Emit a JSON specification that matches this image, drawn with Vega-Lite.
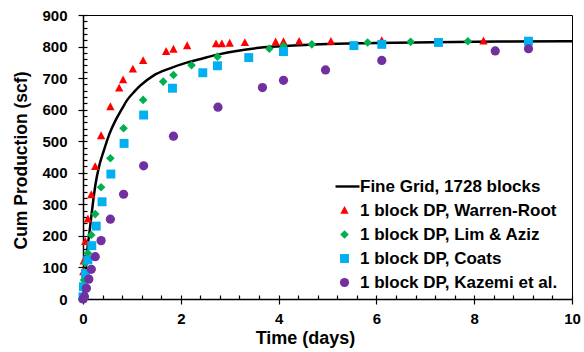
{
  "$schema": "https://vega.github.io/schema/vega-lite/v6.json",
  "width": 489,
  "height": 284,
  "autosize": {"type": "none"},
  "padding": {"left": 83, "top": 15, "right": 12, "bottom": 53},
  "background": "white",
  "config": {
    "view": {"stroke": "#000000", "strokeWidth": 1},
    "font": "Liberation Sans",
    "axis": {
      "grid": false,
      "domainColor": "#000000",
      "domainWidth": 1.5,
      "tickColor": "#000000",
      "tickWidth": 1.2,
      "labelFlush": false,
      "labelOverlap": false,
      "labelFont": "Liberation Sans",
      "labelFontWeight": "bold",
      "labelFontSize": 15,
      "labelColor": "#000000",
      "titleFont": "Liberation Sans",
      "titleFontWeight": "bold",
      "titleFontSize": 17.5,
      "titleColor": "#000000"
    }
  },
  "datasets": {
    "grid": [
      {"series": "Fine Grid, 1728 blocks", "t": 0, "v": 0},
      {"series": "Fine Grid, 1728 blocks", "t": 0.027, "v": 50},
      {"series": "Fine Grid, 1728 blocks", "t": 0.061, "v": 102},
      {"series": "Fine Grid, 1728 blocks", "t": 0.088, "v": 155},
      {"series": "Fine Grid, 1728 blocks", "t": 0.129, "v": 208},
      {"series": "Fine Grid, 1728 blocks", "t": 0.17, "v": 261},
      {"series": "Fine Grid, 1728 blocks", "t": 0.211, "v": 314},
      {"series": "Fine Grid, 1728 blocks", "t": 0.259, "v": 367},
      {"series": "Fine Grid, 1728 blocks", "t": 0.327, "v": 419},
      {"series": "Fine Grid, 1728 blocks", "t": 0.429, "v": 472},
      {"series": "Fine Grid, 1728 blocks", "t": 0.545, "v": 525},
      {"series": "Fine Grid, 1728 blocks", "t": 0.668, "v": 567},
      {"series": "Fine Grid, 1728 blocks", "t": 0.784, "v": 599},
      {"series": "Fine Grid, 1728 blocks", "t": 0.906, "v": 631},
      {"series": "Fine Grid, 1728 blocks", "t": 1.05, "v": 657},
      {"series": "Fine Grid, 1728 blocks", "t": 1.17, "v": 676},
      {"series": "Fine Grid, 1728 blocks", "t": 1.44, "v": 708},
      {"series": "Fine Grid, 1728 blocks", "t": 1.78, "v": 731},
      {"series": "Fine Grid, 1728 blocks", "t": 2.12, "v": 749},
      {"series": "Fine Grid, 1728 blocks", "t": 2.46, "v": 763},
      {"series": "Fine Grid, 1728 blocks", "t": 2.8, "v": 776},
      {"series": "Fine Grid, 1728 blocks", "t": 3.14, "v": 786},
      {"series": "Fine Grid, 1728 blocks", "t": 3.6, "v": 796},
      {"series": "Fine Grid, 1728 blocks", "t": 4.3, "v": 803},
      {"series": "Fine Grid, 1728 blocks", "t": 4.85, "v": 807},
      {"series": "Fine Grid, 1728 blocks", "t": 6, "v": 811},
      {"series": "Fine Grid, 1728 blocks", "t": 7.16, "v": 814},
      {"series": "Fine Grid, 1728 blocks", "t": 8.5, "v": 816},
      {"series": "Fine Grid, 1728 blocks", "t": 10, "v": 817}
    ],
    "dp": [
      {"series": "1 block DP, Warren-Root", "t": 0, "v": 0},
      {"series": "1 block DP, Warren-Root", "t": 0.006, "v": 86},
      {"series": "1 block DP, Warren-Root", "t": 0.015, "v": 120},
      {"series": "1 block DP, Warren-Root", "t": 0.047, "v": 182},
      {"series": "1 block DP, Warren-Root", "t": 0.1, "v": 253},
      {"series": "1 block DP, Warren-Root", "t": 0.17, "v": 330},
      {"series": "1 block DP, Warren-Root", "t": 0.25, "v": 419},
      {"series": "1 block DP, Warren-Root", "t": 0.37, "v": 517},
      {"series": "1 block DP, Warren-Root", "t": 0.56, "v": 609},
      {"series": "1 block DP, Warren-Root", "t": 0.74, "v": 668},
      {"series": "1 block DP, Warren-Root", "t": 0.82, "v": 694},
      {"series": "1 block DP, Warren-Root", "t": 1.02, "v": 728},
      {"series": "1 block DP, Warren-Root", "t": 1.23, "v": 755},
      {"series": "1 block DP, Warren-Root", "t": 1.7, "v": 784},
      {"series": "1 block DP, Warren-Root", "t": 1.85, "v": 791},
      {"series": "1 block DP, Warren-Root", "t": 2.13, "v": 802},
      {"series": "1 block DP, Warren-Root", "t": 2.72, "v": 808},
      {"series": "1 block DP, Warren-Root", "t": 2.84, "v": 808},
      {"series": "1 block DP, Warren-Root", "t": 3.0, "v": 810},
      {"series": "1 block DP, Warren-Root", "t": 3.31, "v": 812},
      {"series": "1 block DP, Warren-Root", "t": 3.94, "v": 814},
      {"series": "1 block DP, Warren-Root", "t": 4.1, "v": 815},
      {"series": "1 block DP, Warren-Root", "t": 4.42, "v": 816},
      {"series": "1 block DP, Warren-Root", "t": 5.07, "v": 816},
      {"series": "1 block DP, Warren-Root", "t": 6.11, "v": 818},
      {"series": "1 block DP, Warren-Root", "t": 8.19, "v": 817},
      {"series": "1 block DP, Lim & Aziz", "t": 0, "v": 0},
      {"series": "1 block DP, Lim & Aziz", "t": 0.02, "v": 60},
      {"series": "1 block DP, Lim & Aziz", "t": 0.05, "v": 114},
      {"series": "1 block DP, Lim & Aziz", "t": 0.1, "v": 145},
      {"series": "1 block DP, Lim & Aziz", "t": 0.17, "v": 203},
      {"series": "1 block DP, Lim & Aziz", "t": 0.25, "v": 269},
      {"series": "1 block DP, Lim & Aziz", "t": 0.37, "v": 354},
      {"series": "1 block DP, Lim & Aziz", "t": 0.56, "v": 446},
      {"series": "1 block DP, Lim & Aziz", "t": 0.83, "v": 541},
      {"series": "1 block DP, Lim & Aziz", "t": 1.23, "v": 631},
      {"series": "1 block DP, Lim & Aziz", "t": 1.64, "v": 689},
      {"series": "1 block DP, Lim & Aziz", "t": 1.85, "v": 710},
      {"series": "1 block DP, Lim & Aziz", "t": 2.22, "v": 741},
      {"series": "1 block DP, Lim & Aziz", "t": 2.75, "v": 768},
      {"series": "1 block DP, Lim & Aziz", "t": 3.81, "v": 793},
      {"series": "1 block DP, Lim & Aziz", "t": 4.1, "v": 802},
      {"series": "1 block DP, Lim & Aziz", "t": 4.68, "v": 807},
      {"series": "1 block DP, Lim & Aziz", "t": 5.82, "v": 813},
      {"series": "1 block DP, Lim & Aziz", "t": 6.7, "v": 815},
      {"series": "1 block DP, Lim & Aziz", "t": 7.87, "v": 817},
      {"series": "1 block DP, Coats", "t": 0, "v": 7},
      {"series": "1 block DP, Coats", "t": 0.01, "v": 39},
      {"series": "1 block DP, Coats", "t": 0.05, "v": 81},
      {"series": "1 block DP, Coats", "t": 0.1, "v": 124},
      {"series": "1 block DP, Coats", "t": 0.18, "v": 169},
      {"series": "1 block DP, Coats", "t": 0.27, "v": 231},
      {"series": "1 block DP, Coats", "t": 0.39, "v": 308},
      {"series": "1 block DP, Coats", "t": 0.57, "v": 396},
      {"series": "1 block DP, Coats", "t": 0.84, "v": 493},
      {"series": "1 block DP, Coats", "t": 1.24, "v": 583},
      {"series": "1 block DP, Coats", "t": 1.83, "v": 668},
      {"series": "1 block DP, Coats", "t": 2.45, "v": 717},
      {"series": "1 block DP, Coats", "t": 2.75, "v": 739},
      {"series": "1 block DP, Coats", "t": 3.39, "v": 765},
      {"series": "1 block DP, Coats", "t": 4.1, "v": 784},
      {"series": "1 block DP, Coats", "t": 5.54, "v": 803},
      {"series": "1 block DP, Coats", "t": 6.11, "v": 807},
      {"series": "1 block DP, Coats", "t": 7.27, "v": 813},
      {"series": "1 block DP, Coats", "t": 9.11, "v": 817},
      {"series": "1 block DP, Kazemi et al.", "t": 0, "v": 0},
      {"series": "1 block DP, Kazemi et al.", "t": 0.03, "v": 7},
      {"series": "1 block DP, Kazemi et al.", "t": 0.07, "v": 34},
      {"series": "1 block DP, Kazemi et al.", "t": 0.12, "v": 63},
      {"series": "1 block DP, Kazemi et al.", "t": 0.17, "v": 94},
      {"series": "1 block DP, Kazemi et al.", "t": 0.25, "v": 134},
      {"series": "1 block DP, Kazemi et al.", "t": 0.37, "v": 185},
      {"series": "1 block DP, Kazemi et al.", "t": 0.56, "v": 253},
      {"series": "1 block DP, Kazemi et al.", "t": 0.83, "v": 332},
      {"series": "1 block DP, Kazemi et al.", "t": 1.24, "v": 422},
      {"series": "1 block DP, Kazemi et al.", "t": 1.85, "v": 516},
      {"series": "1 block DP, Kazemi et al.", "t": 2.76, "v": 608},
      {"series": "1 block DP, Kazemi et al.", "t": 3.67, "v": 670},
      {"series": "1 block DP, Kazemi et al.", "t": 4.1, "v": 693},
      {"series": "1 block DP, Kazemi et al.", "t": 4.96, "v": 726},
      {"series": "1 block DP, Kazemi et al.", "t": 6.11, "v": 756},
      {"series": "1 block DP, Kazemi et al.", "t": 8.43, "v": 786},
      {"series": "1 block DP, Kazemi et al.", "t": 9.11, "v": 793}
    ]
  },
  "layer": [
    {
      "data": {"name": "grid"},
      "mark": {"type": "line", "color": "#000000", "strokeWidth": 2.5, "interpolate": "monotone"},
      "encoding": {
        "x": {
          "field": "t", "type": "quantitative",
          "scale": {"domain": [0, 10], "nice": false},
          "axis": {"orient": "bottom", "values": [0, 2, 4, 6, 8, 10], "tickSize": 5, "labelPadding": 7, "title": "Time (days)", "titleFontSize": 18, "titlePadding": 3, "titleX": 222, "titleAlign": "center", "format": "d"}
        },
        "y": {
          "field": "v", "type": "quantitative",
          "scale": {"domain": [0, 900], "nice": false},
          "axis": {"orient": "left", "values": [0, 100, 200, 300, 400, 500, 600, 700, 800, 900], "tickSize": 5, "labelPadding": 11, "title": "Cum Production (scf)", "titlePadding": 11, "titleY": 145, "titleAlign": "center", "format": "d"}
        }
      }
    },
    {
      "data": {"name": "dp"},
      "mark": {"type": "point", "filled": true, "opacity": 1, "strokeWidth": 0},
      "encoding": {
        "x": {
          "field": "t", "type": "quantitative",
          "scale": {"domain": [0, 10], "nice": false},
          "axis": {"orient": "bottom", "values": [0, 0.4, 0.8, 1.2, 1.6, 2, 2.4, 2.8, 3.2, 3.6, 4, 4.4, 4.8, 5.2, 5.6, 6, 6.4, 6.8, 7.2, 7.6, 8, 8.4, 8.8, 9.2, 9.6, 10], "tickSize": -4, "labels": false, "domain": false, "title": null}
        },
        "y": {
          "field": "v", "type": "quantitative",
          "scale": {"domain": [0, 900], "nice": false},
          "axis": {"orient": "left", "values": [0, 20, 40, 60, 80, 100, 120, 140, 160, 180, 200, 220, 240, 260, 280, 300, 320, 340, 360, 380, 400, 420, 440, 460, 480, 500, 520, 540, 560, 580, 600, 620, 640, 660, 680, 700, 720, 740, 760, 780, 800, 820, 840, 860, 880, 900], "tickSize": -4, "labels": false, "domain": false, "title": null}
        },
        "color": {
          "field": "series", "type": "nominal",
          "scale": {
            "domain": ["Fine Grid, 1728 blocks", "1 block DP, Warren-Root", "1 block DP, Lim & Aziz", "1 block DP, Coats", "1 block DP, Kazemi et al."],
            "range": ["#000000", "#FF0000", "#00B050", "#00B0F0", "#7030A0"]
          },
          "legend": {
            "title": null, "orient": "none", "legendX": 253, "legendY": 163,
            "labelFont": "Liberation Sans", "labelFontSize": 17, "labelFontWeight": "bold", "labelColor": "#000000",
            "labelLimit": 300, "labelOffset": 7, "rowPadding": 6,
            "encode": {"symbols": {"update": {
              "fill": {"signal": "scale('color', datum.value)"},
              "stroke": {"value": "transparent"},
              "strokeWidth": {"value": 0},
              "opacity": {"value": 1}
            }}}
          }
        },
        "shape": {
          "field": "series", "type": "nominal",
          "scale": {
            "domain": ["Fine Grid, 1728 blocks", "1 block DP, Warren-Root", "1 block DP, Lim & Aziz", "1 block DP, Coats", "1 block DP, Kazemi et al."],
            "range": ["M-2.25,-0.3H3.75V0.3H-2.25Z", "M0,-1.1L1,0.8L-1,0.8Z", "diamond", "square", "circle"]
          },
          "legend": {
            "title": null, "orient": "none", "legendX": 253, "legendY": 163,
            "labelFont": "Liberation Sans", "labelFontSize": 17, "labelFontWeight": "bold", "labelColor": "#000000",
            "labelLimit": 300, "labelOffset": 7, "rowPadding": 6,
            "encode": {"symbols": {"update": {
              "fill": {"signal": "scale('color', datum.value)"},
              "stroke": {"value": "transparent"},
              "strokeWidth": {"value": 0},
              "opacity": {"value": 1}
            }}}
          }
        },
        "size": {
          "field": "series", "type": "nominal",
          "scale": {
            "domain": ["Fine Grid, 1728 blocks", "1 block DP, Warren-Root", "1 block DP, Lim & Aziz", "1 block DP, Coats", "1 block DP, Kazemi et al."],
            "range": [64, 85, 68, 90, 76]
          },
          "legend": {
            "title": null, "orient": "none", "legendX": 253, "legendY": 163,
            "labelFont": "Liberation Sans", "labelFontSize": 17, "labelFontWeight": "bold", "labelColor": "#000000",
            "labelLimit": 300, "labelOffset": 7, "rowPadding": 6,
            "encode": {"symbols": {"update": {
              "fill": {"signal": "scale('color', datum.value)"},
              "stroke": {"value": "transparent"},
              "strokeWidth": {"value": 0},
              "opacity": {"value": 1}
            }}}
          }
        }
      }
    }
  ],
  "resolve": {"scale": {"x": "independent", "y": "independent"}, "axis": {"x": "independent", "y": "independent"}}
}
